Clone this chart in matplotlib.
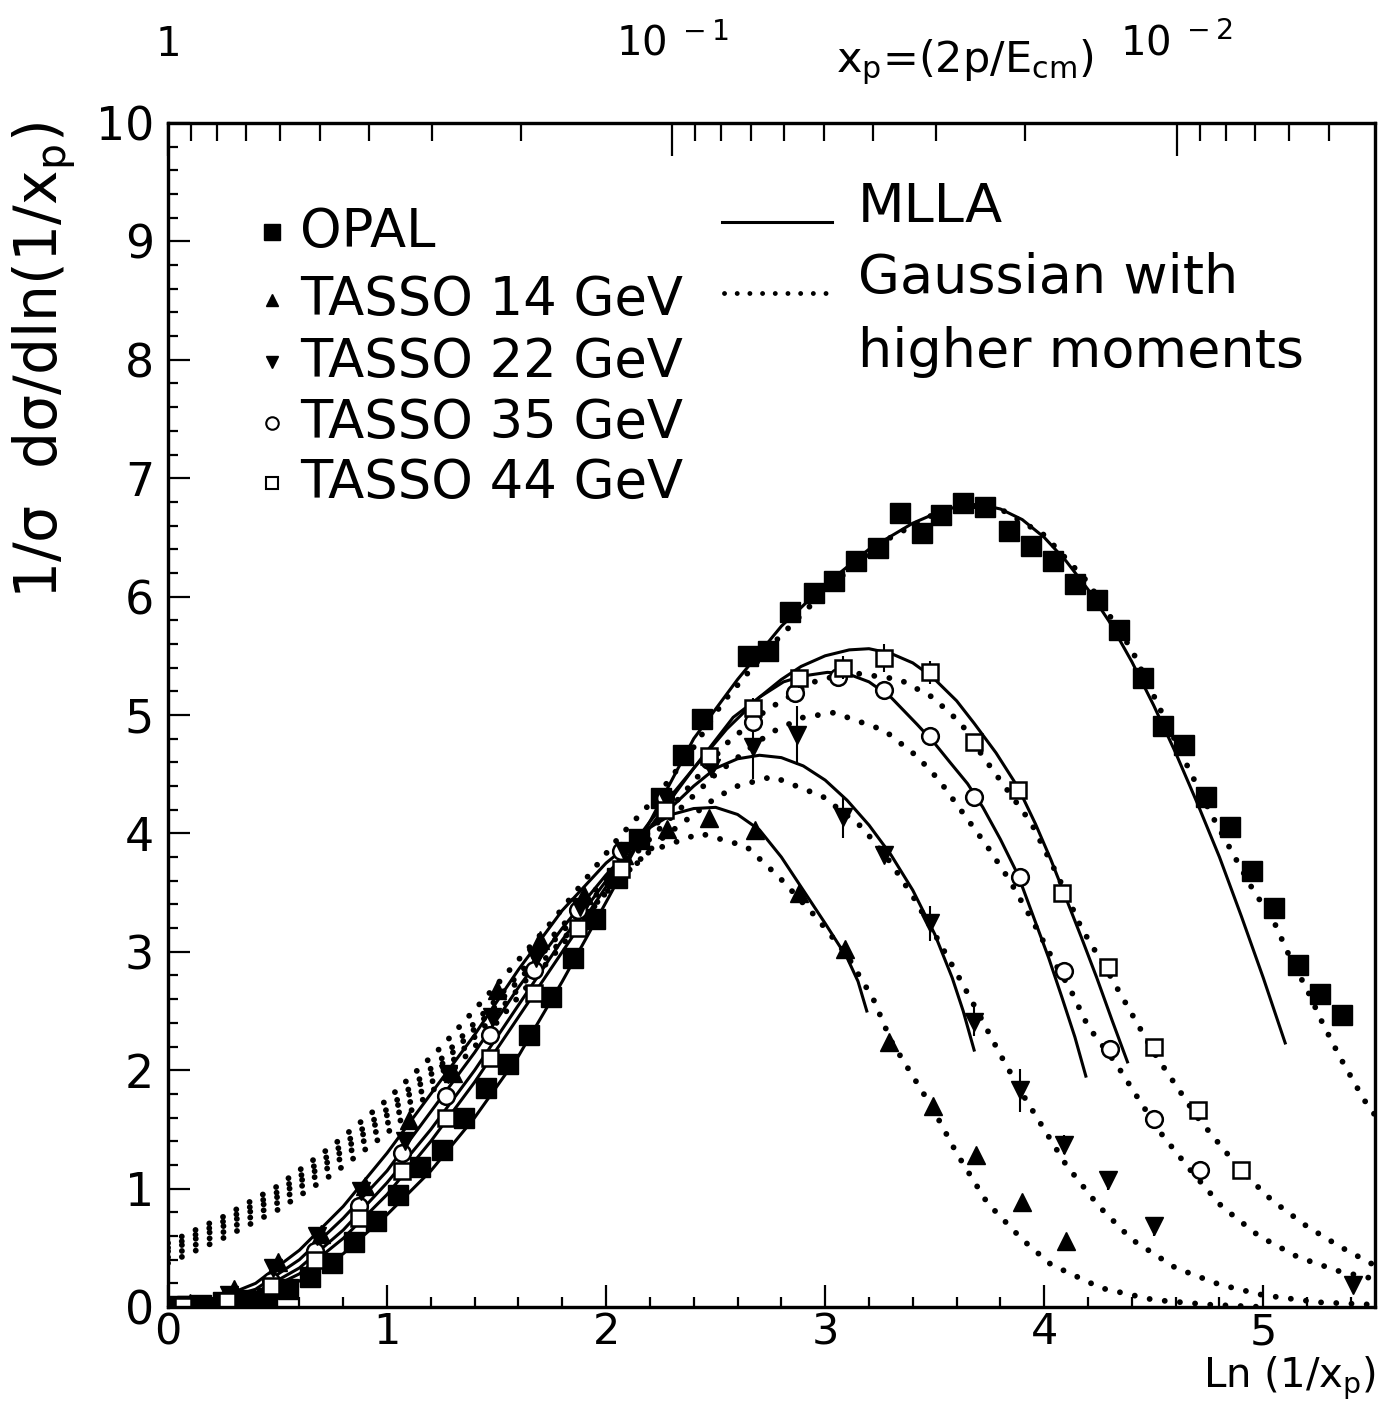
import numpy as np
import matplotlib
matplotlib.use("Agg")
import matplotlib.pyplot as plt

# ---- data points ----
opal_x = [0.05, 0.15, 0.25, 0.35, 0.45, 0.55, 0.65, 0.75, 0.85, 0.95, 1.05, 1.15, 1.25, 1.35,
          1.45, 1.55, 1.65, 1.75, 1.85, 1.95, 2.05, 2.15, 2.25, 2.35, 2.44, 2.65, 2.74, 2.84,
          2.95, 3.04, 3.14, 3.24, 3.34, 3.44, 3.53, 3.63, 3.73, 3.84, 3.94, 4.04, 4.14, 4.24,
          4.34, 4.45, 4.54, 4.64, 4.74, 4.85, 4.95, 5.05, 5.16, 5.26, 5.36]
opal_y = [0.01, 0.02, 0.04, 0.06, 0.08, 0.15, 0.25, 0.37, 0.55, 0.73, 0.95, 1.18, 1.33, 1.60,
          1.85, 2.05, 2.30, 2.62, 2.95, 3.28, 3.62, 3.95, 4.30, 4.66, 4.97, 5.50, 5.54, 5.87,
          6.03, 6.13, 6.30, 6.41, 6.71, 6.54, 6.69, 6.79, 6.76, 6.55, 6.43, 6.30, 6.11, 5.97,
          5.72, 5.31, 4.91, 4.75, 4.31, 4.05, 3.68, 3.37, 2.89, 2.64, 2.47]

t14_x = [0.1, 0.3, 0.5, 0.7, 0.9, 1.1, 1.3, 1.5, 1.7, 1.9, 2.08, 2.28, 2.47, 2.68, 2.88, 3.09,
         3.29, 3.49, 3.69, 3.90, 4.10]
t14_y = [0.03, 0.15, 0.38, 0.62, 1.02, 1.58, 1.98, 2.68, 3.10, 3.48, 3.82, 4.04, 4.13, 4.03,
         3.50, 3.02, 2.24, 1.70, 1.28, 0.89, 0.56]

t22_x = [0.08, 0.28, 0.48, 0.68, 0.88, 1.08, 1.28, 1.48, 1.68, 1.88, 2.08, 2.28, 2.48, 2.67,
         2.87, 3.08, 3.27, 3.48, 3.68, 3.89, 4.09, 4.29, 4.50, 5.41]
t22_y = [0.02, 0.10, 0.33, 0.60, 0.98, 1.40, 1.97, 2.45, 2.95, 3.38, 3.85, 4.28, 4.55, 4.73,
         4.83, 4.14, 3.82, 3.24, 2.41, 1.83, 1.37, 1.07, 0.68, 0.19]
t22_err = [0, 0, 0, 0, 0, 0, 0, 0, 0, 0, 0, 0, 0, 0.27,
           0.25, 0.18, 0.06, 0.15, 0.12, 0.18, 0.08, 0.08, 0.08, 0.05]

t35_x = [0.07, 0.27, 0.47, 0.67, 0.87, 1.07, 1.27, 1.47, 1.67, 1.87, 2.07, 2.27, 2.47, 2.67,
         2.86, 3.06, 3.27, 3.48, 3.68, 3.89, 4.09, 4.30, 4.50, 4.71]
t35_y = [0.01, 0.07, 0.22, 0.47, 0.85, 1.30, 1.78, 2.30, 2.85, 3.35, 3.85, 4.30, 4.62, 4.94,
         5.19, 5.32, 5.21, 4.82, 4.31, 3.63, 2.84, 2.18, 1.59, 1.16]

t44_x = [0.07, 0.27, 0.47, 0.67, 0.87, 1.07, 1.27, 1.47, 1.67, 1.87, 2.07, 2.27, 2.47, 2.67,
         2.88, 3.08, 3.27, 3.48, 3.68, 3.88, 4.08, 4.29, 4.50, 4.70, 4.90]
t44_y = [0.01, 0.05, 0.18, 0.40, 0.75, 1.15, 1.60, 2.10, 2.65, 3.20, 3.70, 4.20, 4.65, 5.06,
         5.31, 5.40, 5.48, 5.36, 4.77, 4.37, 3.50, 2.87, 2.20, 1.66, 1.16]
t44_err = [0, 0, 0, 0, 0, 0, 0, 0, 0, 0, 0, 0, 0, 0.08,
           0.08, 0.1, 0.12, 0.1, 0.06, 0.06, 0.05, 0.05, 0.05, 0.05, 0.05]

# ---- MLLA curves (solid) ----
mlla14_x = [0.0, 0.2, 0.4, 0.6, 0.8, 1.0, 1.2, 1.4, 1.6, 1.8, 2.0, 2.2, 2.3, 2.4, 2.5, 2.6,
            2.7, 2.8, 2.9, 3.0, 3.1, 3.15, 3.19]
mlla14_y = [0.0, 0.05, 0.20, 0.48, 0.85, 1.30, 1.80, 2.30, 2.85, 3.35, 3.75, 4.05, 4.16, 4.21,
            4.22, 4.16, 4.03, 3.80, 3.52, 3.24, 2.95, 2.75, 2.50]
mlla22_x = [0.0, 0.2, 0.4, 0.6, 0.8, 1.0, 1.2, 1.4, 1.6, 1.8, 2.0, 2.2, 2.4, 2.5, 2.6, 2.7,
            2.8, 2.9, 3.0, 3.1, 3.2, 3.3, 3.4, 3.5, 3.58, 3.63, 3.68]
mlla22_y = [0.0, 0.04, 0.15, 0.40, 0.75, 1.15, 1.65, 2.15, 2.70, 3.20, 3.65, 4.05, 4.40, 4.55,
            4.63, 4.66, 4.64, 4.57, 4.45, 4.28, 4.07, 3.82, 3.52, 3.15, 2.78, 2.50, 2.17]
mlla35_x = [0.0, 0.2, 0.4, 0.6, 0.8, 1.0, 1.2, 1.4, 1.6, 1.8, 2.0, 2.2, 2.4, 2.58, 2.7, 2.81,
            2.9, 3.01, 3.1, 3.2, 3.3, 3.42, 3.5, 3.57, 3.65, 3.72, 3.8, 3.88, 3.95, 4.02, 4.08,
            4.14, 4.19]
mlla35_y = [0.0, 0.03, 0.12, 0.33, 0.65, 1.05, 1.50, 2.00, 2.55, 3.10, 3.60, 4.10, 4.55, 4.98,
            5.15, 5.28, 5.33, 5.36, 5.35, 5.28, 5.15, 4.92, 4.76, 4.60, 4.42, 4.22, 3.95, 3.65,
            3.30, 2.95, 2.62, 2.28, 1.95]
mlla44_x = [0.0, 0.2, 0.4, 0.6, 0.8, 1.0, 1.2, 1.4, 1.6, 1.8, 2.0, 2.2, 2.4, 2.55, 2.70, 2.8,
            2.89, 3.0, 3.11, 3.2, 3.3, 3.4, 3.49, 3.6, 3.68, 3.78, 3.88, 3.96, 4.03, 4.1, 4.17,
            4.24, 4.31, 4.38]
mlla44_y = [0.0, 0.03, 0.10, 0.28, 0.58, 0.95, 1.40, 1.90, 2.45, 3.00, 3.55, 4.05, 4.55, 4.88,
            5.15, 5.30, 5.41, 5.50, 5.55, 5.56, 5.52, 5.44, 5.32, 5.12, 4.93, 4.68, 4.39, 4.08,
            3.78, 3.45, 3.12, 2.78, 2.42, 2.07]
mlla91_x = [0.0, 0.2, 0.4, 0.6, 0.8, 1.0, 1.2, 1.4, 1.6, 1.8, 2.0, 2.2, 2.4, 2.6, 2.8, 3.0,
            3.2, 3.4, 3.5, 3.6, 3.7, 3.8, 3.9, 4.0, 4.1, 4.2, 4.3, 4.4, 4.5, 4.6, 4.7, 4.8,
            4.9, 5.0, 5.1]
mlla91_y = [0.0, 0.02, 0.08, 0.22, 0.45, 0.78, 1.15, 1.60, 2.12, 2.75, 3.42, 4.10, 4.80, 5.30,
            5.75, 6.10, 6.40, 6.62, 6.70, 6.76, 6.78, 6.74, 6.65, 6.50, 6.30, 6.06, 5.78, 5.45,
            5.08, 4.68, 4.25, 3.80, 3.30, 2.78, 2.23]

# ---- Gaussian with higher moments (dotted) ----
gau14_x = [0.0, 0.25, 0.5, 0.75, 1.0, 1.25, 1.5, 1.75, 2.0, 2.2, 2.43, 2.64, 2.79, 2.96, 3.1,
           3.22, 3.3, 3.49, 3.6, 3.74, 3.9, 4.03, 4.26, 4.5, 4.75, 5.0]
gau14_y = [0.37, 0.58, 0.82, 1.12, 1.47, 1.90, 2.40, 2.95, 3.50, 3.85, 4.00, 3.89, 3.63, 3.29,
           2.97, 2.60, 2.25, 1.68, 1.30, 0.88, 0.57, 0.36, 0.16, 0.06, 0.02, 0.0]
gau22_x = [0.0, 0.25, 0.5, 0.75, 1.0, 1.25, 1.5, 1.75, 2.0, 2.25, 2.5, 2.6, 2.76, 2.99, 3.17,
           3.3, 3.4, 3.5, 3.6, 3.7, 3.8, 3.9, 4.0, 4.1, 4.25, 4.4, 4.6, 4.8, 5.0, 5.25, 5.5]
gau22_y = [0.42, 0.63, 0.88, 1.20, 1.55, 1.98, 2.48, 3.00, 3.50, 3.95, 4.30, 4.40, 4.48, 4.31,
           4.05, 3.75, 3.47, 3.15, 2.82, 2.48, 2.13, 1.80, 1.50, 1.20, 0.85, 0.57, 0.33, 0.19,
           0.10, 0.04, 0.02]
gau35_x = [0.0, 0.25, 0.5, 0.75, 1.0, 1.25, 1.5, 1.75, 2.0, 2.25, 2.5, 2.75, 2.9, 3.04, 3.27,
           3.42, 3.52, 3.63, 3.74, 3.84, 3.95, 4.05, 4.12, 4.2, 4.33, 4.45, 4.54, 4.67, 4.81,
           4.98, 5.16, 5.35, 5.5]
gau35_y = [0.47, 0.68, 0.93, 1.25, 1.62, 2.05, 2.55, 3.07, 3.57, 4.05, 4.50, 4.85, 4.98, 5.02,
           4.87, 4.65, 4.45, 4.17, 3.89, 3.61, 3.25, 2.90, 2.68, 2.37, 2.05, 1.70, 1.45, 1.15,
           0.85, 0.60, 0.42, 0.30, 0.24]
gau44_x = [0.0, 0.25, 0.5, 0.75, 1.0, 1.25, 1.5, 1.75, 2.0, 2.25, 2.55, 2.73, 2.95, 3.11, 3.34,
           3.49, 3.62, 3.72, 3.83, 3.94, 4.07, 4.17, 4.3, 4.5, 4.7, 4.9, 5.04, 5.2, 5.35, 5.5]
gau44_y = [0.50, 0.72, 0.97, 1.30, 1.67, 2.10, 2.60, 3.12, 3.62, 4.12, 4.76, 5.04, 5.28, 5.36,
           5.30, 5.15, 4.93, 4.65, 4.37, 4.09, 3.61, 3.20, 2.80, 2.15, 1.60, 1.15, 0.90, 0.68,
           0.51, 0.36]
gau91_x = [0.0, 0.25, 0.5, 0.75, 1.0, 1.25, 1.5, 1.75, 2.06, 2.23, 2.39, 2.53, 2.75, 3.0, 3.25,
           3.5, 3.65, 3.8, 4.0, 4.2, 4.4, 4.64, 4.76, 4.87, 4.96, 5.04, 5.12, 5.2, 5.27, 5.35,
           5.46, 5.51]
gau91_y = [0.54, 0.76, 1.02, 1.36, 1.75, 2.20, 2.72, 3.25, 3.97, 4.31, 4.70, 5.10, 5.58, 6.05,
           6.45, 6.70, 6.77, 6.74, 6.52, 6.12, 5.55, 4.62, 4.17, 3.80, 3.50, 3.29, 2.96, 2.68,
           2.40, 2.11, 1.75, 1.62]

legend_labels = ["OPAL", "TASSO 14 GeV", "TASSO 22 GeV", "TASSO 35 GeV", "TASSO 44 GeV"]

W, H = 1382, 1403


def fig_xy(px, py):
    # image pixel -> figure fraction
    return px / W, 1 - py / H


def main():
    plt.rcParams["font.family"] = ["DejaVu Sans"]
    plt.rcParams["mathtext.default"] = "regular"

    fig = plt.figure(figsize=(W / 100, H / 100), dpi=100)
    x0, y0 = fig_xy(168, 1307)
    x1, y1 = fig_xy(1375, 123)
    ax = fig.add_axes([x0, y0, x1 - x0, y1 - y0])

    # curves
    for cx, cy in [(mlla14_x, mlla14_y), (mlla22_x, mlla22_y), (mlla35_x, mlla35_y),
                   (mlla44_x, mlla44_y), (mlla91_x, mlla91_y)]:
        ax.plot(cx, cy, color="k", lw=2.2, solid_joinstyle="round")
    dots = (0, (0.01, 2.6))
    for cx, cy in [(gau14_x, gau14_y), (gau22_x, gau22_y), (gau35_x, gau35_y),
                   (gau44_x, gau44_y), (gau91_x, gau91_y)]:
        ax.plot(cx, cy, color="k", lw=4.2, linestyle=dots, dash_capstyle="round")

    # data
    ax.plot(opal_x, opal_y, "s", ms=14, color="k")
    ax.plot(t14_x, t14_y, "^", ms=13, color="k")
    ax.errorbar(t22_x, t22_y, yerr=t22_err, fmt="v", ms=13, color="k", elinewidth=1.5, capsize=0)
    ax.plot(t35_x, t35_y, "o", ms=12, mfc="white", mec="k", mew=1.8)
    ax.errorbar(t44_x, t44_y, yerr=t44_err, fmt="s", ms=12, mfc="white", mec="k", mew=1.8,
                ecolor="k", elinewidth=1.5, capsize=0)

    ax.set_xlim(0, 5.51)
    ax.set_ylim(0, 10)
    ax.set_xticks(np.arange(0, 6, 1))
    ax.set_xticks(np.arange(0, 5.51, 0.2), minor=True)
    ax.set_yticks(np.arange(0, 11, 1))
    ax.set_yticks(np.arange(0, 10.01, 0.2), minor=True)
    ax.tick_params(which="both", direction="in", top=False, right=False, width=1.6)
    ax.tick_params(which="major", length=16, labelsize=33)
    ax.tick_params(which="minor", length=7)
    ax.tick_params(axis="x", which="major", pad=3, labelsize=31)
    ax.tick_params(axis="y", which="major", pad=10)
    for s in ax.spines.values():
        s.set_linewidth(2.3)

    # top axis in x_p
    ax2 = ax.twiny()
    ax2.set_xlim(ax.get_xlim())
    major_xp = [1.0, 0.1, 0.01]
    minor_xp = [k * 10.0 ** -n for n in (1, 2, 3) for k in range(2, 10)]
    minor_pos = [-np.log(v) for v in minor_xp if -np.log(v) <= 5.51]
    ax2.set_xticks([-np.log(v) for v in major_xp])
    ax2.set_xticklabels(["1", "10$^{\\ -1}$", "10$^{\\ -2}$"])
    ax2.set_xticks(minor_pos, minor=True)
    ax2.tick_params(which="both", direction="in", width=1.6)
    ax2.tick_params(which="major", length=24, labelsize=29, pad=42)
    ax2.tick_params(which="minor", length=13)
    for s in ax2.spines.values():
        s.set_linewidth(2.3)

    # axis titles
    fx, fy = fig_xy(45, 122)
    fig.text(fx, fy, "1/σ  dσ/dln(1/x$_p$)", rotation=90, ha="center", va="top", fontsize=42)
    fx, fy = fig_xy(1376, 1402)
    fig.text(fx, fy, "Ln (1/x$_p$)", ha="right", va="bottom", fontsize=29)
    fx, fy = fig_xy(965, 62)
    fig.text(fx, fy, "x$_p$=(2p/E$_{cm}$)", ha="center", va="center", fontsize=31)

    # legend, data markers
    styles = [dict(marker="s", ms=11, color="k"),
              dict(marker="^", ms=9, color="k"),
              dict(marker="v", ms=9, color="k"),
              dict(marker="o", ms=9, mfc="white", mec="k", mew=1.5),
              dict(marker="s", ms=8, mfc="white", mec="k", mew=1.5)]
    rows = [232, 300, 362, 423, 483]
    for lab, st, ry in zip(legend_labels, styles, rows):
        mx, my = fig_xy(272, ry)
        fig.lines.append(plt.Line2D([mx], [my], transform=fig.transFigure, linestyle="none", **st))
        tx, ty = fig_xy(300, ry)
        fig.text(tx, ty, lab, ha="left", va="center", fontsize=38)

    # legend, curves
    ax_a, ay_a = fig_xy(722, 222)
    bx_b, _ = fig_xy(832, 222)
    fig.lines.append(plt.Line2D([ax_a, bx_b], [ay_a, ay_a], transform=fig.transFigure,
                                color="k", lw=2.2))
    ax_a, ay_a = fig_xy(724, 293)
    bx_b, _ = fig_xy(830, 293)
    fig.lines.append(plt.Line2D([ax_a, bx_b], [ay_a, ay_a], transform=fig.transFigure,
                                color="k", lw=3.5, linestyle=(0, (0.01, 2.6)),
                                dash_capstyle="round"))
    for txt, ty in [("MLLA", 207), ("Gaussian with", 278), ("higher moments", 352)]:
        tx, tyf = fig_xy(858, ty)
        fig.text(tx, tyf, txt, ha="left", va="center", fontsize=39)

    fig.savefig("out.png", dpi=100)


if __name__ == "__main__":
    main()
